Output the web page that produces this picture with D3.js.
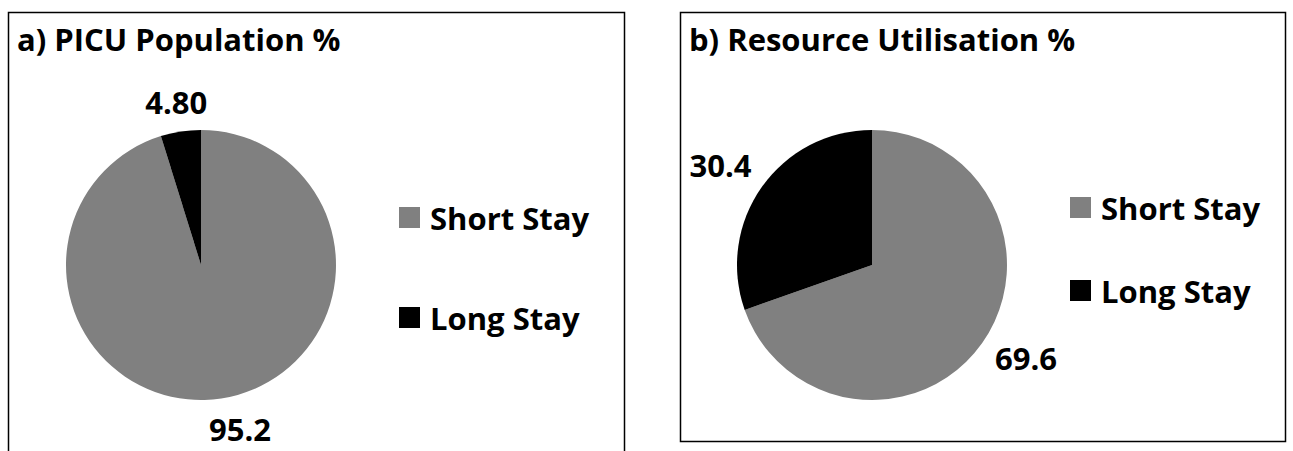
<!DOCTYPE html>
<html>
<head>
<meta charset="utf-8">
<script src="https://cdn.jsdelivr.net/npm/d3@7"></script>
<style>
  body { margin: 0; background: #fff; }
  svg text { font-family: "Open Sans", sans-serif; font-weight: bold; fill: #000; }
</style>
</head>
<body>
<svg width="1293" height="451"></svg>
<script>
// Chart data
const categories = ["Short Stay", "Long Stay"];
const populationValues = [95.2, 4.8];
const populationLabels = ["95.2", "4.80"];
const resourceValues = [69.6, 30.4];
const resourceLabels = ["69.6", "30.4"];
const colors = ["#808080", "#000000"];

const svg = d3.select("svg");

const color = d3.scaleOrdinal()
    .domain(categories)
    .range(colors);

// Panel layouts
const panels = [
    {
        title: "a) PICU Population %",
        values: populationValues,
        labels: populationLabels,
        box: { x: 8, y: 12, w: 616, h: 460 },
        center: [201, 265],
        radius: 135,
        labelRadius: [166, 165],
        labelShift: [[14, 0], [0, 0]],
        legend: { x: 399, y: 207, gap: 100 }
    },
    {
        title: "b) Resource Utilisation %",
        values: resourceValues,
        labels: resourceLabels,
        box: { x: 680, y: 12, w: 605, h: 429 },
        center: [872, 265],
        radius: 135,
        labelRadius: [180, 182],
        labelShift: [[7, -11], [-3, 5]],
        legend: { x: 1070, y: 197, gap: 83 }
    }
];

const pie = d3.pie().sort(null);

panels.forEach(p => {
    const g = svg.append("g");

    // Border
    g.append("rect")
        .attr("x", p.box.x + 0.5)
        .attr("y", p.box.y + 0.5)
        .attr("width", p.box.w)
        .attr("height", p.box.h)
        .attr("fill", "none")
        .attr("stroke", "#000")
        .attr("stroke-width", 1.5);

    // Title
    g.append("text")
        .attr("x", p.box.x + 9)
        .attr("y", p.box.y + 39)
        .style("font-size", "31px")
        .text(p.title);

    const arcs = pie(p.values);
    const arc = d3.arc().innerRadius(0).outerRadius(p.radius);

    const pieG = g.append("g")
        .attr("transform", `translate(${p.center[0]}, ${p.center[1]})`);

    pieG.selectAll("path")
        .data(arcs)
        .enter()
        .append("path")
        .attr("d", arc)
        .attr("fill", (d, i) => color(categories[i]));

    // Data labels outside the slices
    pieG.selectAll(".lbl")
        .data(arcs)
        .enter()
        .append("text")
        .attr("class", "lbl")
        .attr("text-anchor", "middle")
        .attr("dominant-baseline", "central")
        .style("font-size", "31px")
        .attr("transform", (d, i) => {
            const a = (d.startAngle + d.endAngle) / 2;
            const r = p.labelRadius[i];
            const s = p.labelShift[i];
            return `translate(${Math.sin(a) * r + s[0]}, ${-Math.cos(a) * r + s[1]})`;
        })
        .text((d, i) => p.labels[i]);

    // Legend
    const legend = g.selectAll(".legend")
        .data(categories)
        .enter()
        .append("g")
        .attr("transform", (d, i) => `translate(${p.legend.x}, ${p.legend.y + i * p.legend.gap})`);

    legend.append("rect")
        .attr("width", 21)
        .attr("height", 21)
        .attr("fill", d => color(d));

    legend.append("text")
        .attr("x", 31)
        .attr("y", 11)
        .attr("dominant-baseline", "central")
        .style("font-size", "31px")
        .text(d => d);
});
</script>
</body>
</html>
